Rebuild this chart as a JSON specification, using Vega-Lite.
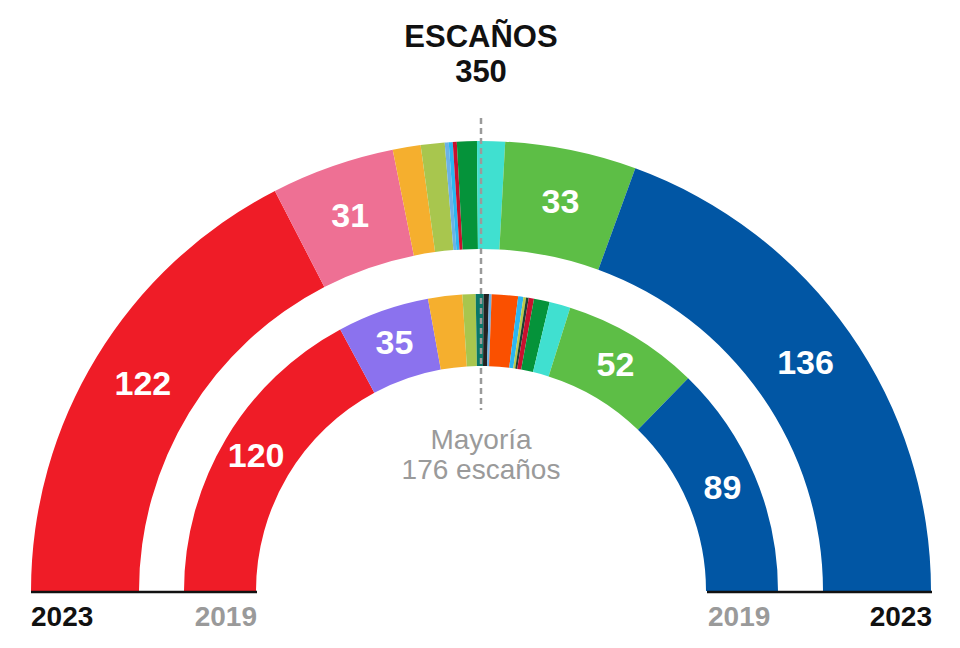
{
  "$schema": "https://vega.github.io/schema/vega-lite/v6.json",
  "width": 960,
  "height": 648,
  "autosize": {"type": "none"},
  "padding": 0,
  "background": "white",
  "config": {"view": {"stroke": null}, "font": "Liberation Sans"},
  "datasets": {
    "seats": [
      {"year": "2023", "party": "PSOE", "seats": 122, "ord": 1},
      {"year": "2023", "party": "Sumar", "seats": 31, "ord": 2},
      {"year": "2023", "party": "ERC", "seats": 7, "ord": 3},
      {"year": "2023", "party": "EH Bildu", "seats": 6, "ord": 4},
      {"year": "2023", "party": "BNG", "seats": 1, "ord": 5},
      {"year": "2023", "party": "CC", "seats": 1, "ord": 6},
      {"year": "2023", "party": "UPN", "seats": 1, "ord": 7},
      {"year": "2023", "party": "PNV", "seats": 5, "ord": 8},
      {"year": "2023", "party": "Junts", "seats": 7, "ord": 9},
      {"year": "2023", "party": "Vox", "seats": 33, "ord": 10},
      {"year": "2023", "party": "PP", "seats": 136, "ord": 11},
      {"year": "2019", "party": "PSOE", "seats": 120, "ord": 1},
      {"year": "2019", "party": "UP", "seats": 35, "ord": 2},
      {"year": "2019", "party": "ERC", "seats": 13, "ord": 3},
      {"year": "2019", "party": "EH Bildu", "seats": 5, "ord": 4},
      {"year": "2019", "party": "Más País", "seats": 3, "ord": 5},
      {"year": "2019", "party": "CUP", "seats": 2, "ord": 6},
      {"year": "2019", "party": "BNG", "seats": 1, "ord": 7},
      {"year": "2019", "party": "Cs", "seats": 10, "ord": 8},
      {"year": "2019", "party": "CC", "seats": 2, "ord": 9},
      {"year": "2019", "party": "PRC", "seats": 1, "ord": 10},
      {"year": "2019", "party": "Teruel Existe", "seats": 1, "ord": 11},
      {"year": "2019", "party": "NA+", "seats": 2, "ord": 12},
      {"year": "2019", "party": "PNV", "seats": 6, "ord": 13},
      {"year": "2019", "party": "JxCat", "seats": 8, "ord": 14},
      {"year": "2019", "party": "Vox", "seats": 52, "ord": 15},
      {"year": "2019", "party": "PP", "seats": 89, "ord": 16}
    ],
    "titles": [
      {"t": "ESCAÑOS", "x": 0, "y": 553},
      {"t": "350", "x": 0, "y": 518}
    ],
    "majority": [
      {"t": "Mayoría", "x": 0, "y": 150},
      {"t": "176 escaños", "x": 0, "y": 120}
    ],
    "yearsLeft": [
      {"t": "2023", "year": "2023", "x": -450, "y": -27},
      {"t": "2019", "year": "2019", "x": 227, "y": -27}
    ],
    "yearsRight": [
      {"t": "2019", "year": "2019", "x": -224, "y": -27},
      {"t": "2023", "year": "2023", "x": 451, "y": -27}
    ],
    "baselines": [
      {"x1": -450, "x2": -224, "y": -1},
      {"x1": 226, "x2": 451, "y": -1}
    ],
    "majorityLine": [
      {"x": 0, "y1": 473, "y2": 181}
    ]
  },
  "layer": [
    {
      "data": {"name": "seats"},
      "transform": [{"filter": "datum.year == '2023'"}],
      "mark": {"type": "arc", "outerRadius": 450, "innerRadius": 342, "x": 481, "y": 591},
      "encoding": {
        "theta": {"field": "seats", "type": "quantitative", "stack": true, "scale": {"domain": [0, 350], "range": [-1.5707963, 1.5707963]}},
        "order": {"field": "ord", "type": "quantitative"},
        "color": {
          "field": "party", "type": "nominal", "legend": null,
          "scale": {
            "domain": ["PSOE","Sumar","ERC","EH Bildu","BNG","CC","UPN","PNV","Junts","Vox","PP","UP","Más País","CUP","Cs","PRC","Teruel Existe","NA+","JxCat"],
            "range": ["#EF1C27","#EE7094","#F5AF2E","#A8C64E","#6CB2E6","#2BB6F0","#C8102E","#05933A","#40E0D0","#5DBE46","#0156A4","#8B72EE","#0A7869","#222222","#FA5000","#BCC94A","#1D4034","#C8102E","#40E0D0"]
          }
        }
      }
    },
    {
      "data": {"name": "seats"},
      "transform": [{"filter": "datum.year == '2019'"}],
      "mark": {"type": "arc", "outerRadius": 297, "innerRadius": 225, "x": 481, "y": 591},
      "encoding": {
        "theta": {"field": "seats", "type": "quantitative", "stack": true, "scale": {"domain": [0, 350], "range": [-1.5707963, 1.5707963]}},
        "order": {"field": "ord", "type": "quantitative"},
        "color": {"field": "party", "type": "nominal", "legend": null}
      }
    },
    {
      "data": {"name": "majorityLine"},
      "mark": {"type": "rule", "color": "#9a9a9a", "strokeWidth": 2.5, "strokeDash": [6, 4]},
      "encoding": {
        "x": {"field": "x", "type": "quantitative", "scale": {"domain": [-481, 479], "nice": false, "zero": false}, "axis": null},
        "y": {"field": "y1", "type": "quantitative", "scale": {"domain": [-57, 591], "nice": false, "zero": false}, "axis": null},
        "y2": {"field": "y2"}
      }
    },
    {
      "data": {"name": "baselines"},
      "mark": {"type": "rule", "color": "#111111", "strokeWidth": 2.5},
      "encoding": {
        "x": {"field": "x1", "type": "quantitative", "scale": {"domain": [-481, 479], "nice": false, "zero": false}, "axis": null},
        "x2": {"field": "x2"},
        "y": {"field": "y", "type": "quantitative", "scale": {"domain": [-57, 591], "nice": false, "zero": false}, "axis": null}
      }
    },
    {
      "data": {"name": "seats"},
      "transform": [{"filter": "datum.year == '2023'"}],
      "mark": {"type": "text", "radius": 396, "x": 481, "y": 591, "color": "white", "fontSize": 34, "fontWeight": "bold", "font": "Liberation Sans", "align": "center", "baseline": "middle"},
      "encoding": {
        "theta": {"field": "seats", "type": "quantitative", "stack": true, "scale": {"domain": [0, 350], "range": [-1.5707963, 1.5707963]}},
        "order": {"field": "ord", "type": "quantitative"},
        "text": {"condition": {"test": "datum.seats >= 30", "field": "seats", "type": "quantitative"}, "value": ""}
      }
    },
    {
      "data": {"name": "seats"},
      "transform": [{"filter": "datum.year == '2019'"}],
      "mark": {"type": "text", "radius": 262, "x": 481, "y": 591, "color": "white", "fontSize": 34, "fontWeight": "bold", "font": "Liberation Sans", "align": "center", "baseline": "middle"},
      "encoding": {
        "theta": {"field": "seats", "type": "quantitative", "stack": true, "scale": {"domain": [0, 350], "range": [-1.5707963, 1.5707963]}},
        "order": {"field": "ord", "type": "quantitative"},
        "text": {"condition": {"test": "datum.seats >= 30", "field": "seats", "type": "quantitative"}, "value": ""}
      }
    },
    {
      "data": {"name": "titles"},
      "mark": {"type": "text", "fontSize": 31, "fontWeight": "bold", "font": "Liberation Sans", "color": "#111111", "align": "center", "baseline": "middle"},
      "encoding": {
        "x": {"field": "x", "type": "quantitative", "scale": {"domain": [-481, 479], "nice": false, "zero": false}, "axis": null},
        "y": {"field": "y", "type": "quantitative", "scale": {"domain": [-57, 591], "nice": false, "zero": false}, "axis": null},
        "text": {"field": "t"}
      }
    },
    {
      "data": {"name": "majority"},
      "mark": {"type": "text", "fontSize": 28, "font": "Liberation Sans", "color": "#9a9a9a", "align": "center", "baseline": "middle"},
      "encoding": {
        "x": {"field": "x", "type": "quantitative", "scale": {"domain": [-481, 479], "nice": false, "zero": false}, "axis": null},
        "y": {"field": "y", "type": "quantitative", "scale": {"domain": [-57, 591], "nice": false, "zero": false}, "axis": null},
        "text": {"field": "t"}
      }
    },
    {
      "data": {"name": "yearsLeft"},
      "mark": {"type": "text", "fontSize": 28, "fontWeight": "bold", "font": "Liberation Sans", "align": "left", "baseline": "middle"},
      "encoding": {
        "x": {"field": "x", "type": "quantitative", "scale": {"domain": [-481, 479], "nice": false, "zero": false}, "axis": null},
        "y": {"field": "y", "type": "quantitative", "scale": {"domain": [-57, 591], "nice": false, "zero": false}, "axis": null},
        "text": {"field": "t"},
        "color": {"condition": {"test": "datum.year == '2019'", "value": "#9a9a9a"}, "value": "#111111"}
      }
    },
    {
      "data": {"name": "yearsRight"},
      "mark": {"type": "text", "fontSize": 28, "fontWeight": "bold", "font": "Liberation Sans", "align": "right", "baseline": "middle"},
      "encoding": {
        "x": {"field": "x", "type": "quantitative", "scale": {"domain": [-481, 479], "nice": false, "zero": false}, "axis": null},
        "y": {"field": "y", "type": "quantitative", "scale": {"domain": [-57, 591], "nice": false, "zero": false}, "axis": null},
        "text": {"field": "t"},
        "color": {"condition": {"test": "datum.year == '2019'", "value": "#9a9a9a"}, "value": "#111111"}
      }
    }
  ]
}
